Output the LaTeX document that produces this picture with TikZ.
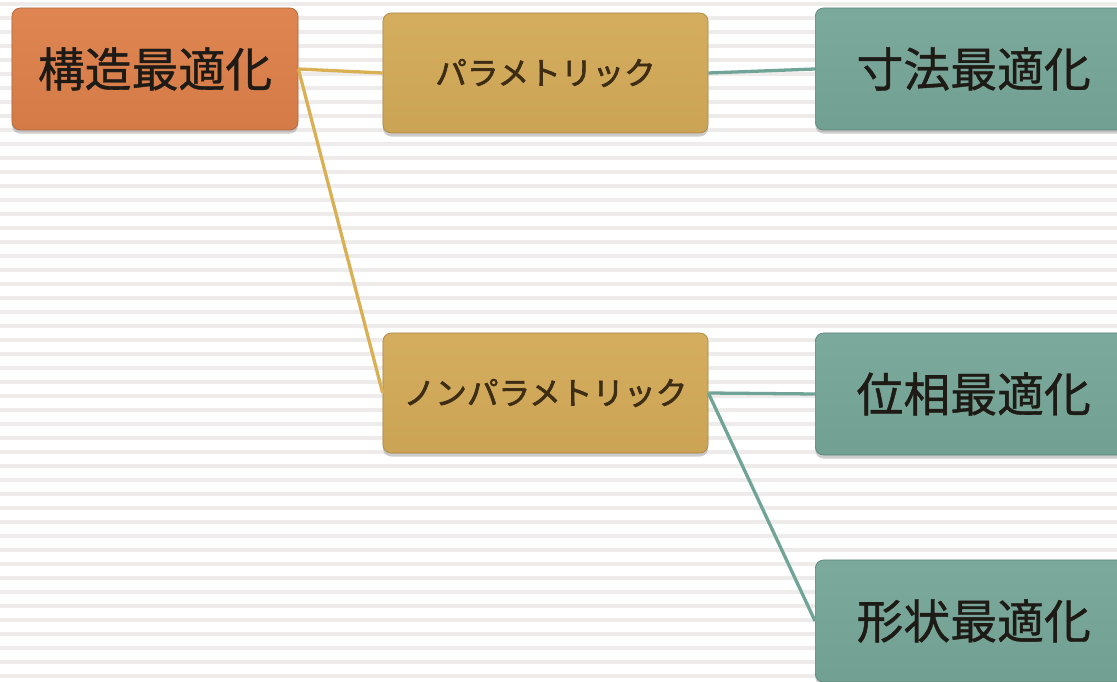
\documentclass[tikz,border=0pt]{standalone}
\usepackage{fontspec}
\newfontfamily\jp{Noto Sans CJK JP}
\newfontfamily\jpb[FakeBold=2]{Noto Sans CJK JP}
\newfontfamily\jpc[FakeBold=0.8]{Noto Sans CJK JP}
\usetikzlibrary{shadows}
\definecolor{stripe}{RGB}{238,235,235}
\definecolor{orangebox}{RGB}{221,128,74}
\definecolor{goldbox}{RGB}{212,170,88}
\definecolor{tealbox}{RGB}{118,166,152}
\definecolor{goldline}{RGB}{218,176,84}
\definecolor{tealline}{RGB}{112,164,150}
\definecolor{txt}{RGB}{30,26,22}
\definecolor{ktxt}{RGB}{60,45,20}
\tikzset{
  px/.style={x=0.03cm,y=-0.03cm},
  box/.style={rounded corners=7pt, draw=#1!80!black, line width=0.6pt,
    top color=#1!96!white, bottom color=#1!96!black,
    drop shadow={shadow xshift=0pt, shadow yshift=-3pt, opacity=0.4},
    text=txt, align=center, inner sep=0pt},
  bigbox/.style={box=#1, minimum width=8.58cm, minimum height=3.66cm, font=\jpc\fontsize{40}{44}\selectfont},
  midbox/.style={box=#1, minimum width=9.75cm, minimum height=3.6cm, text=ktxt, font=\jpb\fontsize{27}{30}\selectfont},
  rbox/.style={box=#1, minimum width=9.5cm, minimum height=3.66cm, font=\jpc\fontsize{40}{44}\selectfont},
  gl/.style={draw=goldline, line width=2.8pt},
  tl/.style={draw=tealline, line width=2.8pt},
}
\begin{document}
\begin{tikzpicture}[px]
\useasboundingbox (0,0) rectangle (1117,682);
\clip (0,0) rectangle (1117,682);
\fill[white] (0,0) rectangle (1117,682);
\foreach \k in {0,...,48} {
  \fill[stripe] (0,{2.3+14*\k}) rectangle (1117,{5.8+14*\k});
}
\node[bigbox=orangebox] (A) at (155,69) {構造最適化};
\node[midbox=goldbox] (B) at (545.5,73) {パラメトリック};
\node[midbox=goldbox] (D) at (545.5,393) {ノンパラメトリック};
\node[rbox=tealbox, anchor=west] (C) at (815,69) {寸法最適化};
\node[rbox=tealbox, anchor=west] (E) at (815,394) {位相最適化};
\node[rbox=tealbox, anchor=west] (F) at (815,621) {形状最適化};
\draw[gl] (A.east) -- (B.west);
\draw[gl] (A.east) -- (D.west);
\draw[tl] (B.east) -- (C.west);
\draw[tl] (D.east) -- (E.west);
\draw[tl] (D.east) -- (F.west);
\end{tikzpicture}
\end{document}
